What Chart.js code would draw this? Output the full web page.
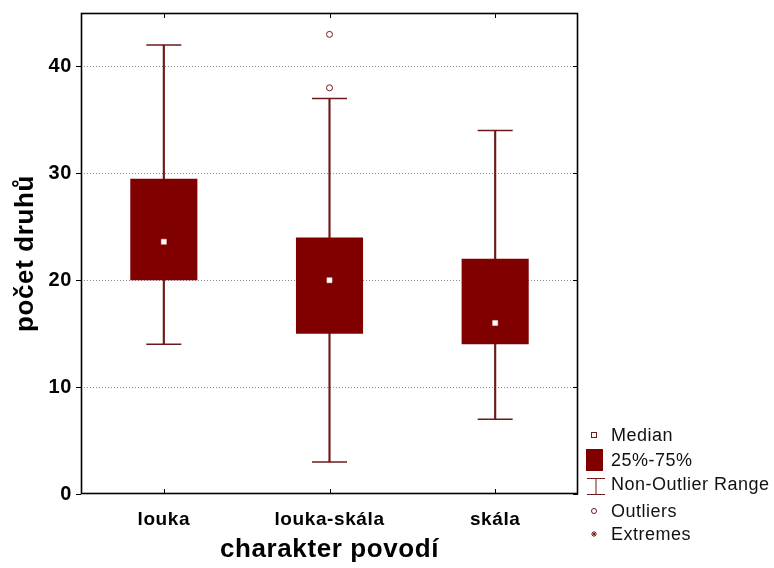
<!DOCTYPE html>
<html>
<head>
<meta charset="utf-8">
<style>
  html, body { margin: 0; padding: 0; background: #fff; }
  canvas { display: block; }
</style>
<script src="https://cdn.jsdelivr.net/npm/chart.js@4/dist/chart.umd.min.js"></script>
</head>
<body>
<canvas id="c" width="774" height="568"></canvas>
<script>
// Species counts by catchment type
const categories = ['louka', 'louka-skála', 'skála'];
const whiskerLow  = [14, 3, 7];
const quartile1   = [20, 15, 14];
const medians     = [23.6, 20, 16];
const quartile3   = [29.5, 24, 22];
const whiskerHigh = [42, 37, 34];
const outliers    = [{ cat: 'louka-skála', value: 43 }, { cat: 'louka-skála', value: 38 }];
const yTicks      = [0, 10, 20, 30, 40];
const legendItems = ['Median', '25%-75%', 'Non-Outlier Range', 'Outliers', 'Extremes'];

const BOX = '#800000';
const WHISKER = '#6e1a1a';
const FONT = '"Liberation Sans", Arial, sans-serif';

const boxData = categories.map((_, i) => [quartile1[i], quartile3[i]]);
const stemData = categories.map((_, i) => [whiskerLow[i], whiskerHigh[i]]);
const outlierData = outliers.map(o => ({ x: o.cat, y: o.value }));

// Frame, tick marks and the key on the right
const framePlugin = {
  id: 'frame',
  beforeDraw(chart) {
    chart.ctx.letterSpacing = '0.6px';
  },
  afterDraw(chart) {
    const ctx = chart.ctx;
    const { left, right, top, bottom } = chart.chartArea;
    const x = chart.scales.x, y = chart.scales.y;
    ctx.save();
    ctx.strokeStyle = '#000';
    ctx.lineWidth = 1.6;
    ctx.strokeRect(left + 0.5, top + 0.5, right - left - 1, bottom - top - 1);
    ctx.lineWidth = 1;
    ctx.beginPath();
    yTicks.forEach(v => {
      const py = Math.round(y.getPixelForValue(v)) + 0.5;
      ctx.moveTo(left - 5, py); ctx.lineTo(left, py);
      ctx.moveTo(right - 5, py); ctx.lineTo(right, py);
    });
    categories.forEach((c, i) => {
      const px = Math.round(x.getPixelForValue(i)) + 0.5;
      ctx.moveTo(px, top); ctx.lineTo(px, top + 5);
      ctx.moveTo(px, bottom - 5); ctx.lineTo(px, bottom);
    });
    ctx.stroke();

    // key
    const sx = 594, tx = 611;
    const rows = [435, 460, 484, 511, 534];
    ctx.letterSpacing = '0.5px';
    ctx.font = '18px ' + FONT;
    ctx.fillStyle = '#111';
    ctx.textBaseline = 'middle';
    ctx.textAlign = 'left';
    legendItems.forEach((t, i) => ctx.fillText(t, tx, rows[i] + 1));

    ctx.strokeStyle = WHISKER;
    ctx.lineWidth = 1;
    // median symbol
    ctx.fillStyle = '#fff';
    ctx.fillRect(sx - 2.5, rows[0] - 2.5, 5, 5);
    ctx.strokeRect(sx - 2.5, rows[0] - 2.5, 5, 5);
    // box symbol
    ctx.fillStyle = BOX;
    ctx.fillRect(586, 449, 17, 22);
    // whisker symbol
    ctx.beginPath();
    ctx.moveTo(587, 478.5); ctx.lineTo(605, 478.5);
    ctx.moveTo(596, 478.5); ctx.lineTo(596, 494.5);
    ctx.moveTo(587, 494.5); ctx.lineTo(605, 494.5);
    ctx.stroke();
    // outlier symbol
    ctx.beginPath();
    ctx.arc(sx, rows[3], 2.5, 0, Math.PI * 2);
    ctx.stroke();
    // extreme symbol
    ctx.beginPath();
    for (let k = 0; k < 4; k++) {
      const a = k * Math.PI / 4;
      ctx.moveTo(sx - 3 * Math.cos(a), rows[4] - 3 * Math.sin(a));
      ctx.lineTo(sx + 3 * Math.cos(a), rows[4] + 3 * Math.sin(a));
    }
    ctx.stroke();
    ctx.restore();
  }
};

new Chart(document.getElementById('c'), {
  type: 'bar',
  data: {
    labels: categories,
    datasets: [
      {
        type: 'bar', data: stemData, backgroundColor: WHISKER,
        barThickness: 1.5, grouped: false, order: 5
      },
      {
        type: 'line', data: whiskerHigh, showLine: false, pointStyle: 'line',
        pointRadius: 17.5, pointBorderWidth: 1.5, pointBorderColor: WHISKER, order: 4
      },
      {
        type: 'line', data: whiskerLow, showLine: false, pointStyle: 'line',
        pointRadius: 17.5, pointBorderWidth: 1.5, pointBorderColor: WHISKER, order: 4
      },
      {
        type: 'bar', data: boxData, backgroundColor: BOX,
        barPercentage: 0.405, categoryPercentage: 1, grouped: false, order: 3
      },
      {
        type: 'line', data: medians, showLine: false, pointStyle: 'rect',
        pointRadius: 3.6, pointBackgroundColor: '#fff', pointBorderColor: '#f6dede',
        pointBorderWidth: 0.5, order: 1
      },
      {
        type: 'line', data: outlierData, showLine: false, pointStyle: 'circle',
        pointRadius: 3, pointBackgroundColor: '#fff', pointBorderColor: WHISKER,
        pointBorderWidth: 1, order: 1
      }
    ]
  },
  options: {
    responsive: false,
    animation: false,
    events: [],
    layout: { autoPadding: false, padding: { left: 0, right: 196, top: 13, bottom: 0 } },
    plugins: { legend: { display: false }, tooltip: { enabled: false } },
    scales: {
      x: {
        type: 'category',
        offset: true,
        grid: { display: false, drawTicks: false },
        border: { display: false },
        ticks: { color: '#000', font: { family: FONT, size: 19, weight: 'bold' }, padding: 14 },
        title: {
          display: true, text: 'charakter povodí', color: '#000',
          font: { family: FONT, size: 26, weight: 'bold', lineHeight: 1 },
          padding: { top: 0, bottom: 5 }
        },
        afterFit(s) { s.height = 74; s.paddingLeft = 0; s.paddingRight = 0; }
      },
      y: {
        min: 0, max: 45,
        ticks: { stepSize: 10, color: '#000', font: { family: FONT, size: 20, weight: 'bold' }, padding: 9 },
        afterBuildTicks(s) { s.ticks = s.ticks.filter(t => yTicks.includes(t.value)); },
        grid: {
          drawTicks: false,
          color: c => (c.tick && c.tick.value === 0) ? 'rgba(0,0,0,0)' : '#8c8c8c',
          lineWidth: 1
        },
        border: { display: false, dash: [1, 2] },
        title: {
          display: true, text: 'počet druhů', color: '#000',
          font: { family: FONT, size: 26, weight: 'bold', lineHeight: 1 },
          padding: { top: 13, bottom: 0 }
        },
        afterFit(s) { s.width = 81; s.paddingTop = 0; s.paddingBottom = 0; }
      }
    }
  },
  plugins: [framePlugin]
});
</script>
</body>
</html>
